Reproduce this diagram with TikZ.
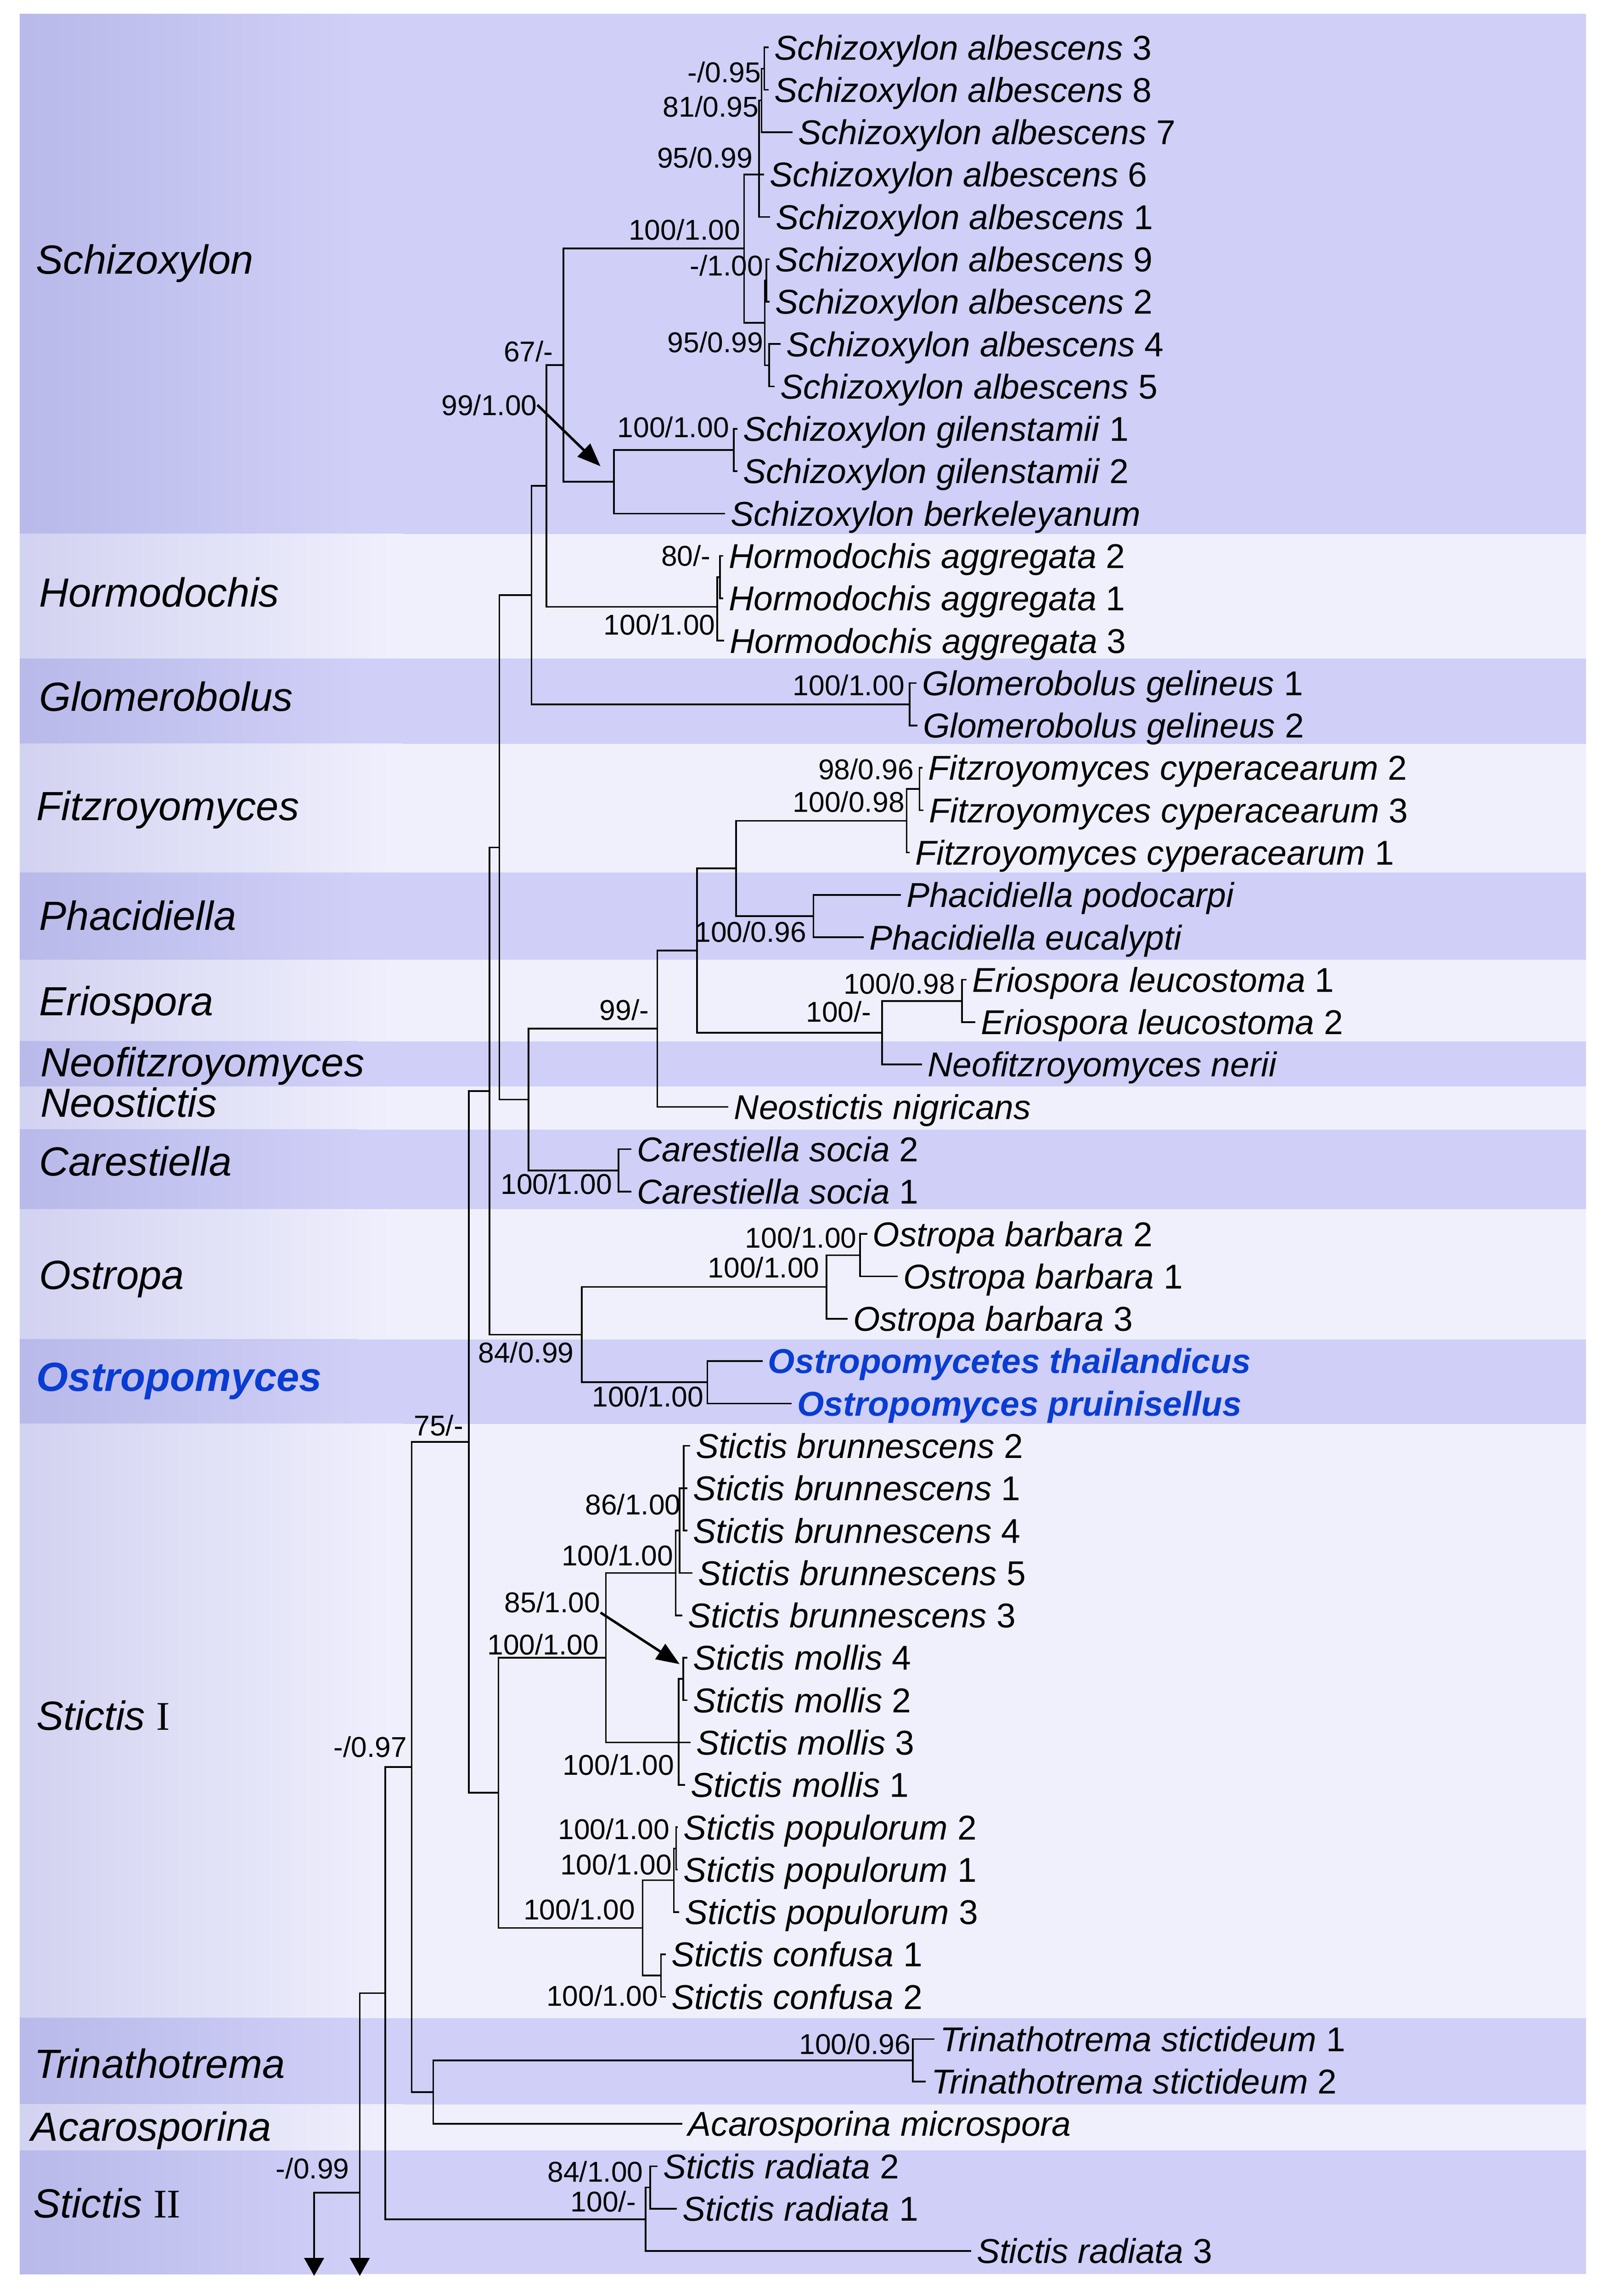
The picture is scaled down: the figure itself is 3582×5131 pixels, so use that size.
\documentclass[tikz,border=0pt]{standalone}
\usepackage{fontspec}
\setmainfont{Liberation Sans}
\newfontfamily\romfont{Liberation Serif}
\usetikzlibrary{arrows.meta}
\definecolor{bandD}{RGB}{207,207,247}
\definecolor{bandDL}{RGB}{185,185,234}
\definecolor{bandL}{RGB}{240,240,253}
\definecolor{bandLL}{RGB}{210,210,241}
\definecolor{newblue}{RGB}{8,60,210}
\newcommand{\spfont}{\fontsize{21.9pt}{24pt}\selectfont}
\newcommand{\supfont}{\fontsize{18.2pt}{20pt}\selectfont}
\newcommand{\cladefont}{\fontsize{25.9pt}{28pt}\selectfont}
\newcommand{\darkband}[2]{\fill[bandD] (44,#1) rectangle (3544,#2);
  \shade[left color=bandDL, right color=bandD] (44,#1) rectangle (800,#2);}
\newcommand{\lightband}[2]{\fill[bandL] (44,#1) rectangle (3544,#2);
  \shade[left color=bandLL, right color=bandL] (44,#1) rectangle (900,#2);}
\tikzset{
  br/.style={line width=1.05pt, line cap=rect, line join=miter},
  lf/.style={br, line cap=butt, shorten >=0.12cm},
  leaf/.style={anchor=west, inner sep=0pt, font=\spfont, text height=0.55cm, text depth=0pt},
  sup/.style={anchor=east, inner sep=0pt, font=\supfont, text height=0.46cm, text depth=0pt},
  clade/.style={anchor=west, inner sep=0pt, font=\cladefont, text height=0.65cm, text depth=0pt},
  annot/.style={line width=1.6pt, -{Triangle[length=0.52cm,width=0.4cm]}},
  downarrow/.style={line width=1.05pt, -{Triangle[length=0.4cm,width=0.44cm]}},
}
\begin{document}
\begin{tikzpicture}[x=0.01cm, y=-0.01cm]
\useasboundingbox (0,0) rectangle (3582,5131);
\fill[white] (0,0) rectangle (3582,5131);
% ---------- bands ----------
\darkband{31}{1193}
\lightband{1193}{1472}
\darkband{1472}{1662}
\lightband{1662}{1950}
\darkband{1950}{2145}
\lightband{2145}{2327}
\darkband{2327}{2428}
\lightband{2428}{2524}
\darkband{2524}{2702}
\lightband{2702}{2993}
\darkband{2993}{3182}
\lightband{3182}{4510}
\darkband{4510}{4703}
\lightband{4703}{4806}
\darkband{4806}{5082}
% ---------- clade labels ----------
\node[clade] (cSch) at (80,580) {\textit{Schizoxylon}};
\node[clade] (cHor) at (87,1324) {\textit{Hormodochis}};
\node[clade] (cGlo) at (87,1557) {\textit{Glomerobolus}};
\node[clade] (cFit) at (81,1801) {\textit{Fitzroyomyces}};
\node[clade] (cPha) at (87,2046) {\textit{Phacidiella}};
\node[clade] (cEri) at (87,2237) {\textit{Eriospora}};
\node[clade] (cNeof) at (90,2373) {\textit{Neofitzroyomyces}};
\node[clade] (cNeos) at (90,2464) {\textit{Neostictis}};
\node[clade] (cCar) at (87,2595) {\textit{Carestiella}};
\node[clade] (cOst) at (87,2848) {\textit{Ostropa}};
\node[clade, text=newblue] (cOmy) at (81,3076) {\textbf{\textit{Ostropomyces}}};
\node[clade] (cSt1) at (81,3834) {\textit{Stictis} {\romfont I}};
\node[clade] (cTri) at (76,4611) {\textit{Trinathotrema}};
\node[clade] (cAca) at (69,4752) {\textit{Acarosporina}};
\node[clade] (cSt2) at (74,4923) {\textit{Stictis} {\romfont II}};
% ---------- leaves ----------
\node[leaf] (alb3) at (1730,106.0) {\textit{Schizoxylon albescens} 3};
\node[leaf] (alb8) at (1730,200.7) {\textit{Schizoxylon albescens} 8};
\node[leaf] (alb7) at (1783,295.4) {\textit{Schizoxylon albescens} 7};
\node[leaf] (alb6) at (1720,390.1) {\textit{Schizoxylon albescens} 6};
\node[leaf] (alb1) at (1733,484.8) {\textit{Schizoxylon albescens} 1};
\node[leaf] (alb9) at (1732,579.5) {\textit{Schizoxylon albescens} 9};
\node[leaf] (alb2) at (1732,674.2) {\textit{Schizoxylon albescens} 2};
\node[leaf] (alb4) at (1757,768.9) {\textit{Schizoxylon albescens} 4};
\node[leaf] (alb5) at (1743,863.6) {\textit{Schizoxylon albescens} 5};
\node[leaf] (gil1) at (1660,958.3) {\textit{Schizoxylon gilenstamii} 1};
\node[leaf] (gil2) at (1660,1053.0) {\textit{Schizoxylon gilenstamii} 2};
\node[leaf] (berk) at (1632,1147.7) {\textit{Schizoxylon berkeleyanum}};
\node[leaf] (horm2) at (1628,1242.4) {\textit{Hormodochis aggregata} 2};
\node[leaf] (horm1) at (1628,1337.1) {\textit{Hormodochis aggregata} 1};
\node[leaf] (horm3) at (1630,1431.8) {\textit{Hormodochis aggregata} 3};
\node[leaf] (glom1) at (2060,1526.5) {\textit{Glomerobolus gelineus} 1};
\node[leaf] (glom2) at (2062,1621.2) {\textit{Glomerobolus gelineus} 2};
\node[leaf] (fitz2) at (2074,1715.9) {\textit{Fitzroyomyces cyperacearum} 2};
\node[leaf] (fitz3) at (2076,1810.6) {\textit{Fitzroyomyces cyperacearum} 3};
\node[leaf] (fitz1) at (2045,1905.3) {\textit{Fitzroyomyces cyperacearum} 1};
\node[leaf] (phpod) at (2025,2000.0) {\textit{Phacidiella podocarpi}};
\node[leaf] (pheuc) at (1942,2094.7) {\textit{Phacidiella eucalypti}};
\node[leaf] (erio1) at (2172,2189.4) {\textit{Eriospora leucostoma} 1};
\node[leaf] (erio2) at (2192,2284.1) {\textit{Eriospora leucostoma} 2};
\node[leaf] (neofitz) at (2073,2378.8) {\textit{Neofitzroyomyces nerii}};
\node[leaf] (neost) at (1640,2473.5) {\textit{Neostictis nigricans}};
\node[leaf] (car2) at (1423,2568.2) {\textit{Carestiella socia} 2};
\node[leaf] (car1) at (1423,2662.9) {\textit{Carestiella socia} 1};
\node[leaf] (ostr2) at (1950,2757.6) {\textit{Ostropa barbara} 2};
\node[leaf] (ostr1) at (2018,2852.3) {\textit{Ostropa barbara} 1};
\node[leaf] (ostr3) at (1906,2947.0) {\textit{Ostropa barbara} 3};
\node[leaf, text=newblue] (thail) at (1716,3041.7) {\textbf{\textit{Ostropomycetes thailandicus}}};
\node[leaf, text=newblue] (pruin) at (1781,3136.4) {\textbf{\textit{Ostropomyces pruinisellus}}};
\node[leaf] (brunn2) at (1554,3231.1) {\textit{Stictis brunnescens} 2};
\node[leaf] (brunn1) at (1548,3325.8) {\textit{Stictis brunnescens} 1};
\node[leaf] (brunn4) at (1548,3420.5) {\textit{Stictis brunnescens} 4};
\node[leaf] (brunn5) at (1560,3515.2) {\textit{Stictis brunnescens} 5};
\node[leaf] (brunn3) at (1537,3609.9) {\textit{Stictis brunnescens} 3};
\node[leaf] (mollis4) at (1548,3704.6) {\textit{Stictis mollis} 4};
\node[leaf] (mollis2) at (1548,3799.3) {\textit{Stictis mollis} 2};
\node[leaf] (mollis3) at (1555,3894.0) {\textit{Stictis mollis} 3};
\node[leaf] (mollis1) at (1543,3988.7) {\textit{Stictis mollis} 1};
\node[leaf] (pop2) at (1527,4083.4) {\textit{Stictis populorum} 2};
\node[leaf] (pop1) at (1527,4178.1) {\textit{Stictis populorum} 1};
\node[leaf] (pop3) at (1530,4272.8) {\textit{Stictis populorum} 3};
\node[leaf] (conf1) at (1500,4367.5) {\textit{Stictis confusa} 1};
\node[leaf] (conf2) at (1500,4462.2) {\textit{Stictis confusa} 2};
\node[leaf] (tri1) at (2100,4556.9) {\textit{Trinathotrema stictideum} 1};
\node[leaf] (tri2) at (2081,4651.6) {\textit{Trinathotrema stictideum} 2};
\node[leaf] (acaro) at (1537,4746.3) {\textit{Acarosporina microspora}};
\node[leaf] (rad2) at (1482,4841.0) {\textit{Stictis radiata} 2};
\node[leaf] (rad1) at (1525,4935.7) {\textit{Stictis radiata} 1};
\node[leaf] (rad3) at (2182,5030.4) {\textit{Stictis radiata} 3};
% ---------- internal nodes ----------
\coordinate (n38) at (1708,153.4);
\coordinate (n387) at (1702,224.4);
\coordinate (nA) at (1696,390);
\coordinate (n92) at (1713,626.9);
\coordinate (n45) at (1719,816.3);
\coordinate (nBC) at (1709,721.6);
\coordinate (nAlb) at (1663,555);
\coordinate (nGil) at (1640,1005.7);
\coordinate (nGB) at (1372,1076.7);
\coordinate (nSch) at (1259,816);
\coordinate (nH21) at (1609,1289.8);
\coordinate (nHorm) at (1603,1356);
\coordinate (nSH) at (1221,1086);
\coordinate (nGlom) at (2033,1573.9);
\coordinate (nSHG) at (1188,1330);
\coordinate (nFitz23) at (2055,1763.3);
\coordinate (nFitz) at (2026,1834.3);
\coordinate (nPhac) at (1818,2047.4);
\coordinate (nFP) at (1645,1940.8);
\coordinate (nErio) at (2150,2236.8);
\coordinate (nEN) at (1971,2307.8);
\coordinate (nFPEN) at (1558,2124.3);
\coordinate (n99) at (1469,2298.9);
\coordinate (nCar) at (1382,2615.6);
\coordinate (n99C) at (1181,2457.3);
\coordinate (nUp) at (1116,1894);
\coordinate (nO21) at (1922,2805);
\coordinate (nOstropa) at (1847,2876);
\coordinate (nOmy) at (1581,3089);
\coordinate (nOO) at (1300,2982.5);
\coordinate (nUpper) at (1094,2438);
\coordinate (nB1) at (1528,3325.8);
\coordinate (nB2) at (1519,3420.5);
\coordinate (nB3) at (1510,3515.2);
\coordinate (nM1) at (1527,3752);
\coordinate (nM) at (1517,3894);
\coordinate (nBM) at (1354,3704.6);
\coordinate (nP21) at (1511,4130.8);
\coordinate (nP) at (1506,4201.8);
\coordinate (nC) at (1477,4414.9);
\coordinate (nPC) at (1436,4308.3);
\coordinate (nSI) at (1114,4006.5);
\coordinate (n75) at (1048,3222);
\coordinate (nTri) at (2040,4604.3);
\coordinate (nTA) at (968,4675.3);
\coordinate (n097) at (920,3948.7);
\coordinate (nR21) at (1453,4888.4);
\coordinate (nR) at (1443,4959.4);
\coordinate (nX) at (861,4454);
\coordinate (n099) at (804,4900);
\coordinate (nL) at (702,4900);
\coordinate (endA) at (702,5086);
\coordinate (endB) at (804,5086);
% ---------- internal branches ----------
\draw[br] (nAlb) |- (nA);  \draw[br] (nAlb) |- (nBC);
\draw[br] (nA) |- (n387);  \draw[br] (n387) |- (n38);
\draw[br] (nBC) |- (n92);  \draw[br] (nBC) |- (n45);
\draw[br] (nSch) |- (nAlb); \draw[br] (nSch) |- (nGB);
\draw[br] (nGB) |- (nGil);
\draw[br] (nSH) |- (nSch); \draw[br] (nSH) |- (nHorm);
\draw[br] (nHorm) |- (nH21);
\draw[br] (nSHG) |- (nSH); \draw[br] (nSHG) |- (nGlom);
\draw[br] (nUp) |- (nSHG); \draw[br] (nUp) |- (n99C);
\draw[br] (n99C) |- (n99); \draw[br] (n99C) |- (nCar);
\draw[br] (n99) |- (nFPEN);
\draw[br] (nFPEN) |- (nFP); \draw[br] (nFPEN) |- (nEN);
\draw[br] (nFP) |- (nFitz); \draw[br] (nFP) |- (nPhac);
\draw[br] (nFitz) |- (nFitz23);
\draw[br] (nEN) |- (nErio);
\draw[br] (nUpper) |- (nUp); \draw[br] (nUpper) |- (nOO);
\draw[br] (nOO) |- (nOstropa); \draw[br] (nOO) |- (nOmy);
\draw[br] (nOstropa) |- (nO21);
\draw[br] (n75) |- (nUpper); \draw[br] (n75) |- (nSI);
\draw[br] (nSI) |- (nBM); \draw[br] (nSI) |- (nPC);
\draw[br] (nBM) |- (nB3); \draw[br] (nBM) |- (nM);
\draw[br] (nB3) |- (nB2); \draw[br] (nB2) |- (nB1);
\draw[br] (nM) |- (nM1);
\draw[br] (nPC) |- (nP); \draw[br] (nPC) |- (nC);
\draw[br] (nP) |- (nP21);
\draw[br] (n097) |- (n75); \draw[br] (n097) |- (nTA);
\draw[br] (nTA) |- (nTri);
\draw[br] (nX) |- (n097); \draw[br] (nX) |- (nR);
\draw[br] (nR) |- (nR21);
\draw[br] (n099) |- (nX);
\draw[br] (nL) -- (n099);
\draw[downarrow] (n099) -- (endB);
\draw[downarrow] (nL) -- (endA);
% ---------- leaf branches ----------
\draw[lf] (n38) |- (alb3.west);   \draw[lf] (n38) |- (alb8.west);
\draw[lf] (n387) |- (alb7.west);
\draw[lf] (nA) |- (alb6.west);    \draw[lf] (nA) |- (alb1.west);
\draw[lf] (n92) |- (alb9.west);   \draw[lf] (n92) |- (alb2.west);
\draw[lf] (n45) |- (alb4.west);   \draw[lf] (n45) |- (alb5.west);
\draw[lf] (nGil) |- (gil1.west);  \draw[lf] (nGil) |- (gil2.west);
\draw[lf] (nGB) |- (berk.west);
\draw[lf] (nH21) |- (horm2.west); \draw[lf] (nH21) |- (horm1.west);
\draw[lf] (nHorm) |- (horm3.west);
\draw[lf] (nGlom) |- (glom1.west); \draw[lf] (nGlom) |- (glom2.west);
\draw[lf] (nFitz23) |- (fitz2.west); \draw[lf] (nFitz23) |- (fitz3.west);
\draw[lf] (nFitz) |- (fitz1.west);
\draw[lf] (nPhac) |- (phpod.west); \draw[lf] (nPhac) |- (pheuc.west);
\draw[lf] (nErio) |- (erio1.west); \draw[lf] (nErio) |- (erio2.west);
\draw[lf] (nEN) |- (neofitz.west);
\draw[lf] (n99) |- (neost.west);
\draw[lf] (nCar) |- (car2.west); \draw[lf] (nCar) |- (car1.west);
\draw[lf] (nO21) |- (ostr2.west); \draw[lf] (nO21) |- (ostr1.west);
\draw[lf] (nOstropa) |- (ostr3.west);
\draw[lf] (nOmy) |- (thail.west); \draw[lf] (nOmy) |- (pruin.west);
\draw[lf] (nB1) |- (brunn2.west); \draw[lf] (nB1) |- (brunn1.west); \draw[lf] (nB1) |- (brunn4.west);
\draw[lf] (nB2) |- (brunn5.west);
\draw[lf] (nB3) |- (brunn3.west);
\draw[lf] (nM1) |- (mollis4.west); \draw[lf] (nM1) |- (mollis2.west);
\draw[lf] (nM) |- (mollis3.west); \draw[lf] (nM) |- (mollis1.west);
\draw[lf] (nP21) |- (pop2.west); \draw[lf] (nP21) |- (pop1.west);
\draw[lf] (nP) |- (pop3.west);
\draw[lf] (nC) |- (conf1.west); \draw[lf] (nC) |- (conf2.west);
\draw[lf] (nTri) |- (tri1.west); \draw[lf] (nTri) |- (tri2.west);
\draw[lf] (nTA) |- (acaro.west);
\draw[lf] (nR21) |- (rad2.west); \draw[lf] (nR21) |- (rad1.west);
\draw[lf] (nR) |- (rad3.west);
% ---------- support values ----------
\node[sup] (s1) at (1701,161) {-/0.95};
\node[sup] (s2) at (1696,238) {81/0.95};
\node[sup] (s3) at (1683,352) {95/0.99};
\node[sup] (s4) at (1655,513) {100/1.00};
\node[sup] (s5) at (1706,593) {-/1.00};
\node[sup] (s6) at (1706,765) {95/0.99};
\node[sup] (s7) at (1237,785) {67/-};
\node[sup] (s8) at (1201,905) {99/1.00};
\node[sup] (s9) at (1630,954) {100/1.00};
\node[sup] (s10) at (1589,1242) {80/-};
\node[sup] (s11) at (1599,1396) {100/1.00};
\node[sup] (s12) at (2022,1531) {100/1.00};
\node[sup] (s13) at (2043,1719) {98/0.96};
\node[sup] (s14) at (2022,1792) {100/0.98};
\node[sup] (s15) at (1803,2082) {100/0.96};
\node[sup] (s16) at (2135,2198) {100/0.98};
\node[sup] (s17) at (1948,2261) {100/-};
\node[sup] (s18) at (1451,2257) {99/-};
\node[sup] (s19) at (1369,2646) {100/1.00};
\node[sup] (s20) at (1915,2766) {100/1.00};
\node[sup] (s21) at (1832,2832) {100/1.00};
\node[sup] (s22) at (1283,3022) {84/0.99};
\node[sup] (s23) at (1573,3121) {100/1.00};
\node[sup] (s24) at (1036,3185) {75/-};
\node[sup] (s25) at (1522,3362) {86/1.00};
\node[sup] (s26) at (1505,3476) {100/1.00};
\node[sup] (s27) at (1342,3580) {85/1.00};
\node[sup] (s28) at (1339,3675) {100/1.00};
\node[sup] (s29) at (1507,3944) {100/1.00};
\node[sup] (s30) at (910,3904) {-/0.97};
\node[sup] (s31) at (1497,4087) {100/1.00};
\node[sup] (s32) at (1502,4166) {100/1.00};
\node[sup] (s33) at (1420,4267) {100/1.00};
\node[sup] (s34) at (1471,4460) {100/1.00};
\node[sup] (s35) at (2036,4568) {100/0.96};
\node[sup] (s36) at (1438,4853) {84/1.00};
\node[sup] (s37) at (1422,4920) {100/-};
\node[sup] (s38) at (781,4846) {-/0.99};
% ---------- pointer arrows ----------
\coordinate (a1tip) at (1342,1042);
\coordinate (a2tip) at (1519,3719);
\draw[annot] (s8.east) -- (a1tip);
\draw[annot] (s27.south east) -- (a2tip);
\end{tikzpicture}
\end{document}
